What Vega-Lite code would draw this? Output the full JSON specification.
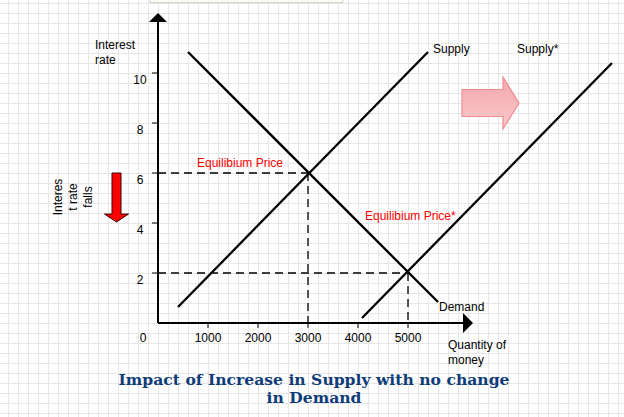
{
  "$schema": "https://vega.github.io/schema/vega-lite/v6.json",
  "width": 624,
  "height": 417,
  "padding": 0,
  "autosize": {"type": "none"},
  "background": "white",
  "config": {"view": {"stroke": null}, "text": {"font": "Liberation Sans", "fontSize": 12}},
  "encoding": {
    "x": {
      "field": "x", "type": "quantitative",
      "scale": {"domain": [-3160, 9320], "nice": false, "zero": false},
      "axis": {
        "grid": true, "labels": false, "ticks": false, "domain": false, "title": null,
        "gridColor": "#e6e6e6", "gridOpacity": 1, "gridWidth": 1,
        "values": [-3000,-2800,-2600,-2400,-2200,-2000,-1800,-1600,-1400,-1200,-1000,-800,-600,-400,-200,0,200,400,600,800,1000,1200,1400,1600,1800,2000,2200,2400,2600,2800,3000,3200,3400,3600,3800,4000,4200,4400,4600,4800,5000,5200,5400,5600,5800,6000,6200,6400,6600,6800,7000,7200,7400,7600,7800,8000,8200,8400,8600,8800,9000,9200]
      }
    },
    "y": {
      "field": "y", "type": "quantitative",
      "scale": {"domain": [-3.76, 12.92], "nice": false, "zero": false},
      "axis": {
        "grid": true, "labels": false, "ticks": false, "domain": false, "title": null,
        "gridColor": "#e6e6e6", "gridOpacity": 1, "gridWidth": 1,
        "values": [-3.6,-3.2,-2.8,-2.4,-2,-1.6,-1.2,-0.8,-0.4,0,0.4,0.8,1.2,1.6,2,2.4,2.8,3.2,3.6,4,4.4,4.8,5.2,5.6,6,6.4,6.8,7.2,7.6,8,8.4,8.8,9.2,9.6,10,10.4,10.8,11.2,11.6,12,12.4,12.8]
      }
    }
  },
  "layer": [
    {
      "data": {"values": [{"x": -160, "y": 13.5, "x2": 3700, "y2": 12.82}]},
      "mark": {"type": "rect", "fill": "#fcfcfb", "stroke": "#d6d1c4", "strokeWidth": 1},
      "encoding": {"x2": {"field": "x2"}, "y2": {"field": "y2"}}
    },
    {
      "data": {"values": [
        {"x": 0, "y": 6, "x2": 3000, "y2": 6},
        {"x": 3000, "y": 6, "x2": 3000, "y2": 0},
        {"x": 0, "y": 2, "x2": 5000, "y2": 2},
        {"x": 5000, "y": 2, "x2": 5000, "y2": 0}
      ]},
      "mark": {"type": "rule", "color": "#000000", "strokeWidth": 1.3, "strokeDash": [8, 5]},
      "encoding": {"x2": {"field": "x2"}, "y2": {"field": "y2"}}
    },
    {
      "data": {"values": [
        {"part": "y axis", "x": 0, "y": 0, "x2": 0, "y2": 12.1},
        {"part": "x axis", "x": 0, "y": 0, "x2": 6100, "y2": 0}
      ]},
      "mark": {"type": "rule", "color": "#000000", "strokeWidth": 2},
      "encoding": {"x2": {"field": "x2"}, "y2": {"field": "y2"}}
    },
    {
      "data": {"values": [
        {"x": -120, "y": 2, "x2": 0, "y2": 2},
        {"x": -120, "y": 4, "x2": 0, "y2": 4},
        {"x": -120, "y": 6, "x2": 0, "y2": 6},
        {"x": -120, "y": 8, "x2": 0, "y2": 8},
        {"x": -120, "y": 10, "x2": 0, "y2": 10},
        {"x": 1000, "y": 0, "x2": 1000, "y2": -0.2},
        {"x": 2000, "y": 0, "x2": 2000, "y2": -0.2},
        {"x": 3000, "y": 0, "x2": 3000, "y2": -0.2},
        {"x": 4000, "y": 0, "x2": 4000, "y2": -0.2},
        {"x": 5000, "y": 0, "x2": 5000, "y2": -0.2}
      ]},
      "mark": {"type": "rule", "color": "#000000", "strokeWidth": 1},
      "encoding": {"x2": {"field": "x2"}, "y2": {"field": "y2"}}
    },
    {
      "data": {"values": [
        {"series": "Demand", "x": 600, "y": 10.84, "x2": 5600, "y2": 0.84},
        {"series": "Supply", "x": 400, "y": 0.64, "x2": 5400, "y2": 10.84},
        {"series": "Supply*", "x": 4080, "y": 0.2, "x2": 9080, "y2": 10.4}
      ]},
      "mark": {"type": "rule", "color": "#000000", "strokeWidth": 2.3},
      "encoding": {"x2": {"field": "x2"}, "y2": {"field": "y2"}}
    },
    {
      "data": {"values": [{"x": 0, "y": 12.22}]},
      "mark": {"type": "point", "shape": "M0,-0.5L1,0.5L-1,0.5Z", "size": 324, "filled": true, "fill": "#000000", "strokeWidth": 0, "opacity": 1}
    },
    {
      "data": {"values": [{"x": 6200, "y": 0}]},
      "mark": {"type": "point", "shape": "M0.5,0L-0.5,1L-0.5,-1Z", "size": 400, "filled": true, "fill": "#000000", "strokeWidth": 0, "opacity": 1}
    },
    {
      "data": {"values": [{"x": -830, "y": 5.02}]},
      "mark": {"type": "point", "shape": "M-0.375,-2.04L0.375,-2.04L0.375,1.38L1,1.38L0,2.04L-1,1.38L-0.375,1.38Z", "size": 576, "filled": true, "fill": "#ff0000", "stroke": "#3a0000", "strokeWidth": 1, "opacity": 1}
    },
    {
      "data": {"values": [{"x": 6650, "y": 8.8}]},
      "mark": {"type": "point", "shape": "M-1.096,-0.52L0.481,-0.52L0.481,-1L1.096,0L0.481,1L0.481,0.52L-1.096,0.52Z", "size": 2704, "filled": true,
        "fill": {"gradient": "linear", "x1": 0, "y1": 0, "x2": 0, "y2": 1, "stops": [{"offset": 0, "color": "#f3a6aa"}, {"offset": 1, "color": "#f9cacc"}]},
        "stroke": "#f08a8f", "strokeWidth": 1.2, "opacity": 1}
    },
    {
      "data": {"values": [
        {"text": "Interest", "x": -1260, "y": 11.12},
        {"text": "rate", "x": -1260, "y": 10.54},
        {"text": "Supply", "x": 5500, "y": 10.96},
        {"text": "Supply*", "x": 7180, "y": 10.96},
        {"text": "Demand", "x": 5620, "y": 0.64},
        {"text": "Quantity of", "x": 5800, "y": -0.88},
        {"text": "money", "x": 5800, "y": -1.48}
      ]},
      "mark": {"type": "text", "align": "left", "baseline": "middle", "color": "#000000"},
      "encoding": {"text": {"field": "text"}}
    },
    {
      "data": {"values": [
        {"text": "10", "x": -360, "y": 9.74},
        {"text": "8", "x": -360, "y": 7.74},
        {"text": "6", "x": -360, "y": 5.74},
        {"text": "4", "x": -360, "y": 3.74},
        {"text": "2", "x": -360, "y": 1.74},
        {"text": "0", "x": -300, "y": -0.6},
        {"text": "1000", "x": 1000, "y": -0.6},
        {"text": "2000", "x": 2000, "y": -0.6},
        {"text": "3000", "x": 3000, "y": -0.6},
        {"text": "4000", "x": 4000, "y": -0.6},
        {"text": "5000", "x": 5000, "y": -0.6}
      ]},
      "mark": {"type": "text", "align": "center", "baseline": "middle", "color": "#000000"},
      "encoding": {"text": {"field": "text"}}
    },
    {
      "data": {"values": [
        {"text": "Equilibium Price", "x": 780, "y": 6.4},
        {"text": "Equilibium Price*", "x": 4140, "y": 4.28}
      ]},
      "mark": {"type": "text", "align": "left", "baseline": "middle", "color": "#ff0000"},
      "encoding": {"text": {"field": "text"}}
    },
    {
      "data": {"values": [
        {"text": "Interes", "x": -2000, "y": 5.04},
        {"text": "t rate", "x": -1700, "y": 5.04},
        {"text": "falls", "x": -1400, "y": 5.04}
      ]},
      "mark": {"type": "text", "align": "center", "baseline": "middle", "angle": 270, "color": "#000000"},
      "encoding": {"text": {"field": "text"}}
    },
    {
      "data": {"values": [
        {"text": "Impact of Increase in Supply with no change", "x": 3120, "y": -2.28},
        {"text": "in Demand", "x": 3120, "y": -3.0}
      ]},
      "mark": {"type": "text", "align": "center", "baseline": "middle", "font": "DejaVu Serif", "fontWeight": "bold", "fontSize": 15.6, "color": "#0d3c78"},
      "encoding": {"text": {"field": "text"}}
    }
  ]
}
